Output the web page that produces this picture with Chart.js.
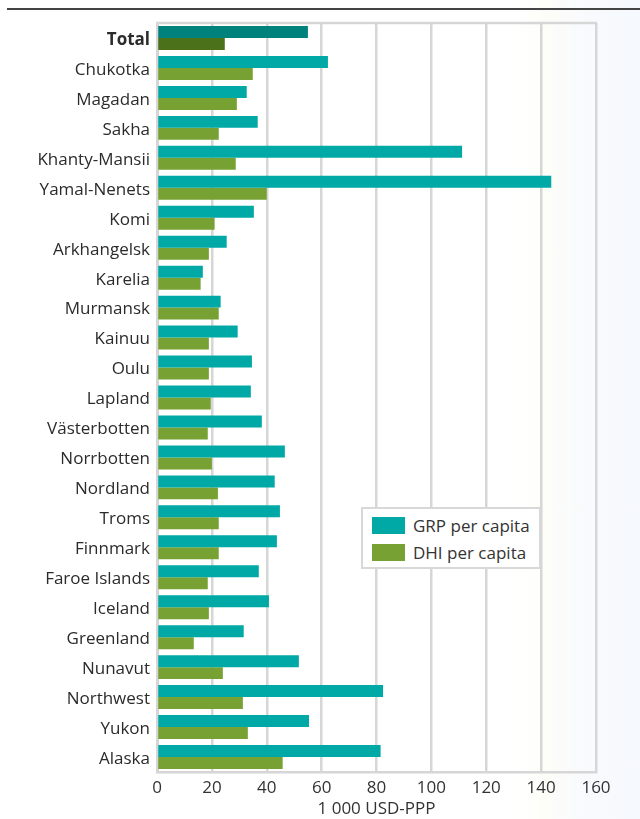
<!DOCTYPE html>
<html lang="en">

<head>
  <meta charset="UTF-8" />
  <title>GRP and DHI per capita</title>
  <style>
    * {
      margin: 0;
      padding: 0;
      font-family: "Open Sans", "Noto Sans", sans-serif;
    }

    body {
      width: 640px;
      height: 819px;
      overflow: hidden;
      background: linear-gradient(to right, #ffffff 0, #ffffff 81%, #fdfdf8 85%, #f8fafd 92%, #f6f9fd 100%);
    }

    .topRule {
      position: absolute;
      left: 7px;
      right: 0;
      top: 8px;
      height: 2px;
      background: #444;
    }

    .chartBox {
      position: absolute;
      left: 0;
      top: 0;
      width: 640px;
      height: 819px;
    }

    .legendBox {
      position: absolute;
      left: 361px;
      top: 507px;
      width: 176px;
      height: 58px;
      border: 2px solid #d8d8d8;
      background: #fff;
    }

    .legendItem {
      position: absolute;
      left: 9px;
      height: 18px;
      line-height: 18px;
      font-size: 17px;
      color: #333;
      white-space: nowrap;
    }

    .legendItem span {
      display: inline-block;
      width: 33px;
      height: 17px;
      margin-right: 8px;
      vertical-align: top;
    }
  </style>
</head>

<body>
  <div class="topRule"></div>
  <div class="chartBox">
    <canvas id="myChart" width="640" height="819"></canvas>
  </div>
  <div class="legendBox">
    <div class="legendItem" style="top: 8px;"><span style="background: #00a9a6;"></span>GRP per capita</div>
    <div class="legendItem" style="top: 35px;"><span style="background: #77a132;"></span>DHI per capita</div>
  </div>
  <script src="https://cdn.jsdelivr.net/npm/chart.js@4"></script>
  <script>
    const regions = [
      "Total", "Chukotka", "Magadan", "Sakha", "Khanty-Mansii", "Yamal-Nenets",
      "Komi", "Arkhangelsk", "Karelia", "Murmansk", "Kainuu", "Oulu", "Lapland",
      "Västerbotten", "Norrbotten", "Nordland", "Troms", "Finnmark",
      "Faroe Islands", "Iceland", "Greenland", "Nunavut", "Northwest", "Yukon", "Alaska",
    ];

    const grpPerCapita = [
      55.0, 62.3, 32.7, 36.7, 111.2, 143.7,
      35.3, 25.4, 16.7, 23.2, 29.4, 34.6, 34.2,
      38.2, 46.6, 42.9, 44.8, 43.7,
      37.1, 40.8, 31.6, 51.7, 82.4, 55.4, 81.5,
    ];

    const dhiPerCapita = [
      24.7, 34.9, 29.1, 22.5, 28.7, 40.0,
      21.0, 18.9, 15.9, 22.5, 18.9, 18.9, 19.6,
      18.5, 20.0, 22.2, 22.5, 22.5,
      18.5, 18.9, 13.4, 24.0, 31.3, 33.1, 45.8,
    ];

    const xTicks = [0, 20, 40, 60, 80, 100, 120, 140, 160];

    const gridColor = "#d6d6d6";

    Chart.defaults.font.family = "'Open Sans', 'Noto Sans', sans-serif";

    // plot frame top edge (the axes cover the other sides)
    const frameTop = {
      id: "frameTop",
      beforeDatasetsDraw(chart) {
        const { ctx, chartArea } = chart;
        ctx.save();
        ctx.strokeStyle = gridColor;
        ctx.lineWidth = 2.5;
        ctx.beginPath();
        ctx.moveTo(chartArea.left - 1, chartArea.top);
        ctx.lineTo(chartArea.right + 1, chartArea.top);
        ctx.stroke();
        ctx.restore();
      },
    };

    const data = {
      labels: regions,
      datasets: [
        {
          label: "GRP per capita",
          data: grpPerCapita,
          backgroundColor: (c) => (c.dataIndex === 0 ? "#00827c" : "#00a9a6"),
          barPercentage: 1.0,
          categoryPercentage: 0.8,
        },
        {
          label: "DHI per capita",
          data: dhiPerCapita,
          backgroundColor: (c) => (c.dataIndex === 0 ? "#4b711b" : "#77a132"),
          barPercentage: 1.0,
          categoryPercentage: 0.8,
        },
      ],
    };

    const options = {
      responsive: false,
      animation: false,
      indexAxis: "y",
      layout: {
        padding: { left: 0, right: 44, top: 23, bottom: 0 },
      },
      scales: {
        x: {
          min: 0,
          max: 160,
          afterBuildTicks: (scale) => {
            scale.ticks = xTicks.map((v) => ({ value: v }));
          },
          afterFit: (scale) => {
            scale.height = 47;
          },
          grid: {
            color: gridColor,
            lineWidth: 2.5,
            drawTicks: false,
          },
          border: { color: gridColor, width: 2.5 },
          ticks: {
            color: "#333",
            font: { size: 17 },
            padding: 6,
          },
          title: {
            display: true,
            text: "1 000 USD-PPP",
            color: "#333",
            font: { size: 17 },
            padding: { top: 0, bottom: 0 },
          },
        },
        y: {
          afterFit: (scale) => {
            scale.width = 157;
          },
          grid: { display: false, drawTicks: false },
          border: { color: gridColor, width: 3 },
          ticks: {
            color: "#2b2b2b",
            padding: 7,
            labelOffset: 2,
            font: (c) => ({ size: 17, weight: c.index === 0 ? "bold" : "normal" }),
          },
        },
      },
      plugins: {
        legend: { display: false },
        tooltip: { enabled: false },
      },
    };

    const ctx = document.getElementById("myChart").getContext("2d");
    const myChart = new Chart(ctx, {
      type: "bar",
      data: data,
      options: options,
      plugins: [frameTop],
    });
  </script>
</body>

</html>
